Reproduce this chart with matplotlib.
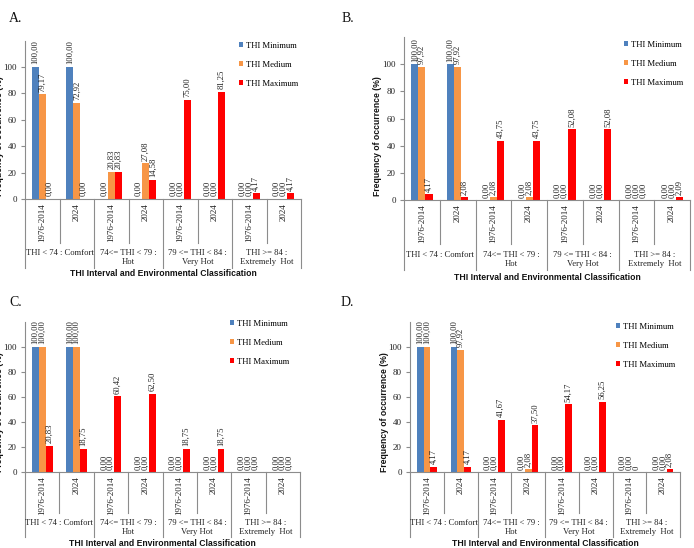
import matplotlib
matplotlib.use("Agg")
import matplotlib.pyplot as plt
from matplotlib.patches import Patch
from matplotlib.lines import Line2D
import numpy as np

W, H = 694, 548

periods = ["1976-2014", "2024"]
groups = ["THI < 74 : Comfort", "74<= THI < 79 :\nHot", "79 <= THI < 84 :\nVery Hot", "THI >= 84 :\nExtremely  Hot"]
series = ["THI Minimum", "THI Medium", "THI Maximum"]
colors = ["#4F81BD", "#F79646", "#FF0000"]

# Panel A
a_min = [100.00, 100.00, 0.00, 0.00, 0.00, 0.00, 0.00, 0.00]
a_med = [79.17, 72.92, 20.83, 27.08, 0.00, 0.00, 0.00, 0.00]
a_max = [0.00, 0.00, 20.83, 14.58, 75.00, 81.25, 4.17, 4.17]
# Panel B
b_min = [100.00, 100.00, 0.00, 0.00, 0.00, 0.00, 0.00, 0.00]
b_med = [97.92, 97.92, 2.08, 2.08, 0.00, 0.00, 0.00, 0.00]
b_max = [4.17, 2.08, 43.75, 43.75, 52.08, 52.08, 0.00, 2.09]
# Panel C
c_min = [100.00, 100.00, 0.00, 0.00, 0.00, 0.00, 0.00, 0.00]
c_med = [100.00, 100.00, 0.00, 0.00, 0.00, 0.00, 0.00, 0.00]
c_max = [20.83, 18.75, 60.42, 62.50, 18.75, 18.75, 0.00, 0.00]
# Panel D
d_min = [100.00, 100.00, 0.00, 0.00, 0.00, 0.00, 0.00, 0.00]
d_med = [100.00, 97.92, 0.00, 2.08, 0.00, 0.00, 0.00, 0.00]
d_max = [4.17, 4.17, 41.67, 37.50, 54.17, 56.25, 0.00, 2.08]
d_label_override = {(2, 6): "0"}

yticks = [0, 20, 40, 60, 80, 100]
ylabel = "Frequency of occurrence (%)"
xtitle = "THI Interval and Environmental Classification"

serif = "Liberation Serif"
sans = "Liberation Sans"

fig = plt.figure(figsize=(W / 100, H / 100), dpi=100)

panels = [
    dict(name="A.", data=[a_min, a_med, a_max], rect=(25, 301, 199, 40.6), over={},
         leg=(239, 42), lab=(9, 18), ylab=(0, 136), sub=44, grp=69, l1=50, title=75),
    dict(name="B.", data=[b_min, b_med, b_max], rect=(404, 690, 200, 37), over={},
         leg=(624, 41), lab=(342, 18), ylab=(377, 136), sub=44, grp=70, l1=51, title=77),
    dict(name="C.", data=[c_min, c_med, c_max], rect=(25, 300, 472, 322), over={},
         leg=(230, 320), lab=(9, 302), ylab=(0, 412), sub=41, grp=65, l1=47, title=71),
    dict(name="D.", data=[d_min, d_med, d_max], rect=(410, 680, 472, 322), over=d_label_override,
         leg=(616, 323), lab=(341, 302), ylab=(384, 412), sub=41, grp=65, l1=47, title=71),
]

spine_col = "#8C8C8C"
txt_col = "#222222"

for p in panels:
    l, r, b, t = p["rect"]
    ax = fig.add_axes([l / W, 1 - b / H, (r - l) / W, (b - t) / H])
    axh = b - t
    n = len(periods) * len(groups)
    x = np.arange(n)
    width = 0.2
    for si, vals in enumerate(p["data"]):
        xs = x + (si - 1) * width
        ax.bar(xs, vals, width=width, color=colors[si], label=series[si], zorder=2)
        for ci, v in enumerate(vals):
            txt = p["over"].get((si, ci), f"{v:.2f}".replace(".", ","))
            ax.annotate(txt, (xs[ci], v), xytext=(0, 1.8), textcoords="offset points",
                        rotation=90, ha="center", va="bottom", fontsize=6.2,
                        family=serif, color=txt_col)
    ax.set_xlim(-0.5, n - 0.5)
    ax.set_ylim(0, 120)
    ax.set_yticks(yticks)
    ax.set_yticklabels([str(v) for v in yticks], family=serif, fontsize=6.5, color=txt_col)
    ax.set_xticks([])
    ax.tick_params(axis="y", length=3, width=0.8, color=spine_col, pad=3)
    for s in ["top", "right"]:
        ax.spines[s].set_visible(False)
    for s in ["left", "bottom"]:
        ax.spines[s].set_color(spine_col)
        ax.spines[s].set_linewidth(0.8)
    tr = ax.get_xaxis_transform()
    # separators
    for k in range(n + 1):
        xb = k - 0.5
        depth = p["grp"] if k % 2 == 0 else p["sub"]
        ax.add_line(Line2D([xb, xb], [0, -depth / axh], transform=tr, color=spine_col,
                           lw=0.8, clip_on=False))
    # period labels
    for ci in range(n):
        ax.text(ci, -4 / axh, periods[ci % 2], transform=tr, rotation=90, ha="center",
                va="top", fontsize=6.5, family=serif, color=txt_col)
    # group labels
    for gi, g in enumerate(groups):
        ax.text(2 * gi + 0.5, -p["l1"] / axh, g, transform=tr, ha="center", va="top",
                fontsize=6.2, family=serif, color=txt_col, linespacing=1.15)
    ax.text((n - 1) / 2, -p["title"] / axh, xtitle, transform=tr, ha="center", va="center",
            fontsize=6.2, family=sans, weight="bold", color="#111111")
    # ylabel
    fig.text(p["ylab"][0] / W, 1 - p["ylab"][1] / H, ylabel, rotation=90, ha="center",
             va="center", fontsize=6.2, family=sans, weight="bold", color="#111111")
    # legend
    handles = [Patch(facecolor=c, edgecolor="none") for c in colors]
    ax.legend(handles, series, loc="upper left",
              bbox_to_anchor=(p["leg"][0] / W, 1 - p["leg"][1] / H),
              bbox_transform=fig.transFigure, frameon=False,
              prop=dict(family=serif, size=6.2), handlelength=0.5, handleheight=0.5,
              handletextpad=0.3, labelspacing=1.25, borderpad=0, borderaxespad=0)
    # panel label
    fig.text(p["lab"][0] / W, 1 - p["lab"][1] / H, p["name"], ha="left", va="center",
             fontsize=10, family=serif, color="#111111")

fig.savefig("out.png", dpi=100)
